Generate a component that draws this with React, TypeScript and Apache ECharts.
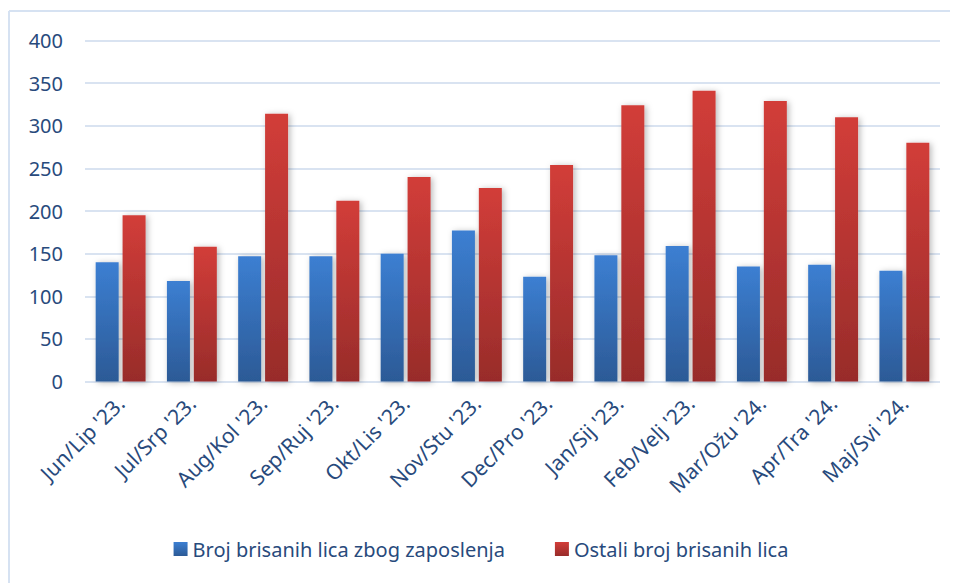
import React, { useEffect, useRef } from "react";
import * as echarts from "echarts";

const categories = [
  "Jun/Lip '23.", "Jul/Srp '23.", "Aug/Kol '23.", "Sep/Ruj '23.", "Okt/Lis '23.", "Nov/Stu '23.",
  "Dec/Pro '23.", "Jan/Sij '23.", "Feb/Velj '23.", "Mar/Ožu '24.", "Apr/Tra '24.", "Maj/Svi '24.",
];
const seriesNames = ["Broj brisanih lica zbog zaposlenja", "Ostali broj brisanih lica"];
const employed = [140, 118, 147, 147, 150, 177, 123, 148, 159, 135, 137, 130];
const others = [195, 158, 314, 212, 240, 227, 254, 324, 341, 329, 310, 280];

const FONT = "'Noto Sans', sans-serif";
const TEXT = "#284A7C";

export default function App() {
  const ref = useRef<HTMLDivElement>(null);
  useEffect(() => {
    if (!ref.current) return;
    const chart = echarts.init(ref.current, undefined, { renderer: "svg" });
    const grad = (top: string, bottom: string) =>
      new echarts.graphic.LinearGradient(0, 0, 0, 1, [
        { offset: 0, color: top },
        { offset: 1, color: bottom },
      ]);
    const shadow = {
      shadowBlur: 6,
      shadowColor: "rgba(0,0,0,0.28)",
      shadowOffsetX: 2,
      shadowOffsetY: 1,
    };
    chart.setOption({
      animation: false,
      backgroundColor: "#ffffff",
      textStyle: { fontFamily: FONT },
      graphic: [
        { type: "line", shape: { x1: 9, y1: 11, x2: 9, y2: 583 }, style: { stroke: "#D6E2F2", lineWidth: 2 } },
        { type: "line", shape: { x1: 9, y1: 11, x2: 950, y2: 11 }, style: { stroke: "#D6E2F2", lineWidth: 2 } },
      ],
      grid: { left: 85, right: 22, top: 40.5, bottom: 201.5 },
      legend: {
        top: 534,
        left: "center",
        itemWidth: 14,
        itemHeight: 14,
        itemGap: 50,
        icon: "rect",
        textStyle: { color: TEXT, fontSize: 20, fontFamily: FONT },
        data: seriesNames,
      },
      xAxis: {
        type: "category",
        data: categories,
        axisTick: { show: false },
        axisLine: { show: false },
        axisLabel: { rotate: 45, color: TEXT, fontSize: 21, fontFamily: FONT, margin: 18, interval: 0 },
      },
      yAxis: {
        type: "value",
        min: 0,
        max: 400,
        interval: 50,
        axisLabel: { color: TEXT, fontSize: 20, fontFamily: FONT, margin: 22 },
        splitLine: { lineStyle: { color: "#D9E3F1", width: 2 } },
        axisLine: { show: false },
        axisTick: { show: false },
      },
      series: [
        {
          name: seriesNames[0],
          type: "bar",
          data: employed,
          barWidth: 23,
          barGap: "17%",
          itemStyle: { color: grad("#3C7FD2", "#2C5A96"), ...shadow },
        },
        {
          name: seriesNames[1],
          type: "bar",
          data: others,
          barWidth: 23,
          itemStyle: { color: grad("#D23D39", "#982C2A"), ...shadow },
        },
      ],
    });
    return () => chart.dispose();
  }, []);
  return <div ref={ref} style={{ position: "fixed", left: 0, top: 0, width: 962, height: 583 }} />;
}
